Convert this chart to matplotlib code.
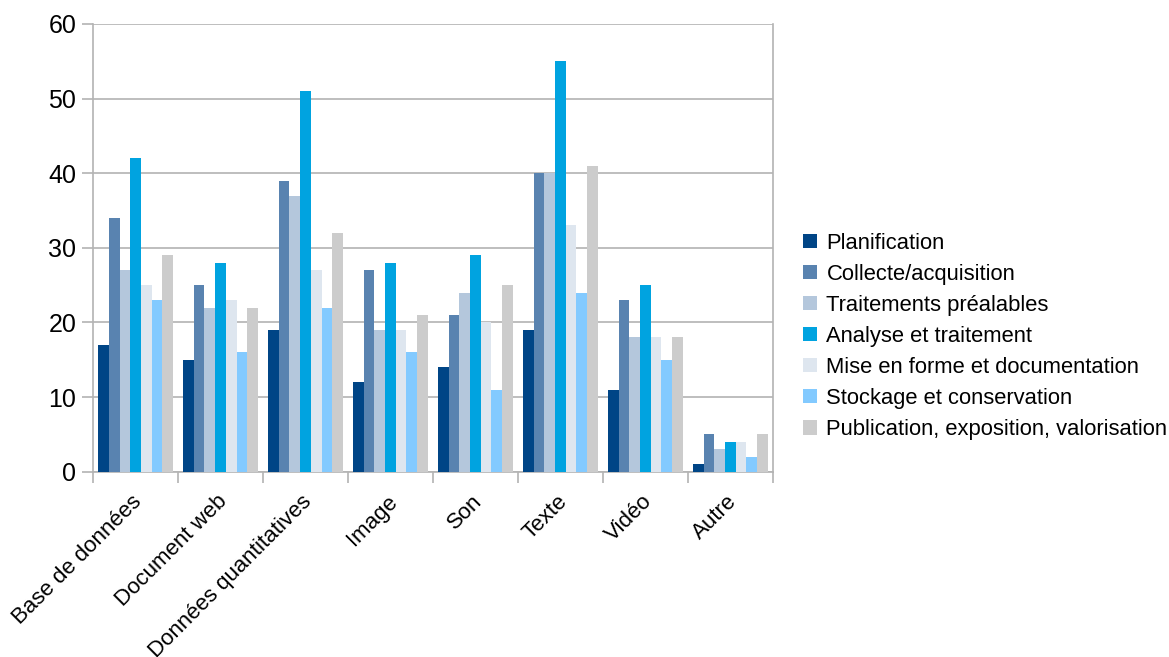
import numpy as np
import matplotlib
matplotlib.use("Agg")
import matplotlib.pyplot as plt
import matplotlib.transforms as mtransforms

plt.rcParams['font.family'] = ['Liberation Sans', 'DejaVu Sans']

# categories on the x axis
categories = ["Base de données", "Document web", "Données quantitatives",
              "Image", "Son", "Texte", "Vidéo", "Autre"]

# one list per stage, in the order of the categories
planification = [17, 15, 19, 12, 14, 19, 11, 1]
collecte = [34, 25, 39, 27, 21, 40, 23, 5]
traitements = [27, 22, 37, 19, 24, 40, 18, 3]
analyse = [42, 28, 51, 28, 29, 55, 25, 4]
mise_en_forme = [25, 23, 27, 19, 20, 33, 18, 4]
stockage = [23, 16, 22, 16, 11, 24, 15, 2]
publication = [29, 22, 32, 21, 25, 41, 18, 5]

series_names = ["Planification", "Collecte/acquisition", "Traitements préalables",
                "Analyse et traitement", "Mise en forme et documentation",
                "Stockage et conservation", "Publication, exposition, valorisation"]
series = [planification, collecte, traitements, analyse,
          mise_en_forme, stockage, publication]
colors = ["#004586", "#5983b0", "#b4c7dc", "#00a3e0",
          "#dee6ef", "#83caff", "#cccccc"]

fig = plt.figure(figsize=(11.69, 6.57), dpi=100)
ax = fig.add_axes([0.0796, 0.282, 0.5815, 0.6815])

n = len(series)
x = np.arange(len(categories))
width = 0.88 / n
for i, (vals, name, c) in enumerate(zip(series, series_names, colors)):
    offs = (i - (n - 1) / 2) * width
    ax.bar(x + offs, vals, width, color=c, label=name, zorder=3)

grid_col = "#b3b3b3"
ax.set_ylim(0, 60)
ax.set_xlim(-0.5, len(categories) - 0.5)
ax.set_yticks(range(0, 61, 10))
ax.yaxis.grid(True, color=grid_col, linewidth=1.2, zorder=0)
ax.tick_params(axis='y', labelsize=18, length=8, color=grid_col, width=1.2, pad=4)

# ticks between groups, labels centred under groups
ax.set_xticks(np.arange(len(categories) + 1) - 0.5)
ax.set_xticklabels([])
ax.set_xticks(x, minor=True)
ax.set_xticklabels(categories, minor=True, rotation=45, ha='right',
                   rotation_mode='anchor', fontsize=16)
ax.tick_params(axis='x', which='major', length=8, color=grid_col, width=1.2)
ax.tick_params(axis='x', which='minor', length=0, pad=14)
shift = mtransforms.ScaledTranslation(-4 / 100, 0, fig.dpi_scale_trans)
for lbl in ax.get_xticklabels(minor=True):
    lbl.set_transform(lbl.get_transform() + shift)

for s in ax.spines.values():
    s.set_color(grid_col)
    s.set_linewidth(1.2)
ax.spines['top'].set_visible(False)

fig.legend(loc='center left', bbox_to_anchor=(0.67, 0.488), frameon=False,
           fontsize=15.8, handlelength=0.62, handleheight=0.62,
           handletextpad=0.45, labelspacing=0.46)

fig.savefig("out.png", dpi=100)
